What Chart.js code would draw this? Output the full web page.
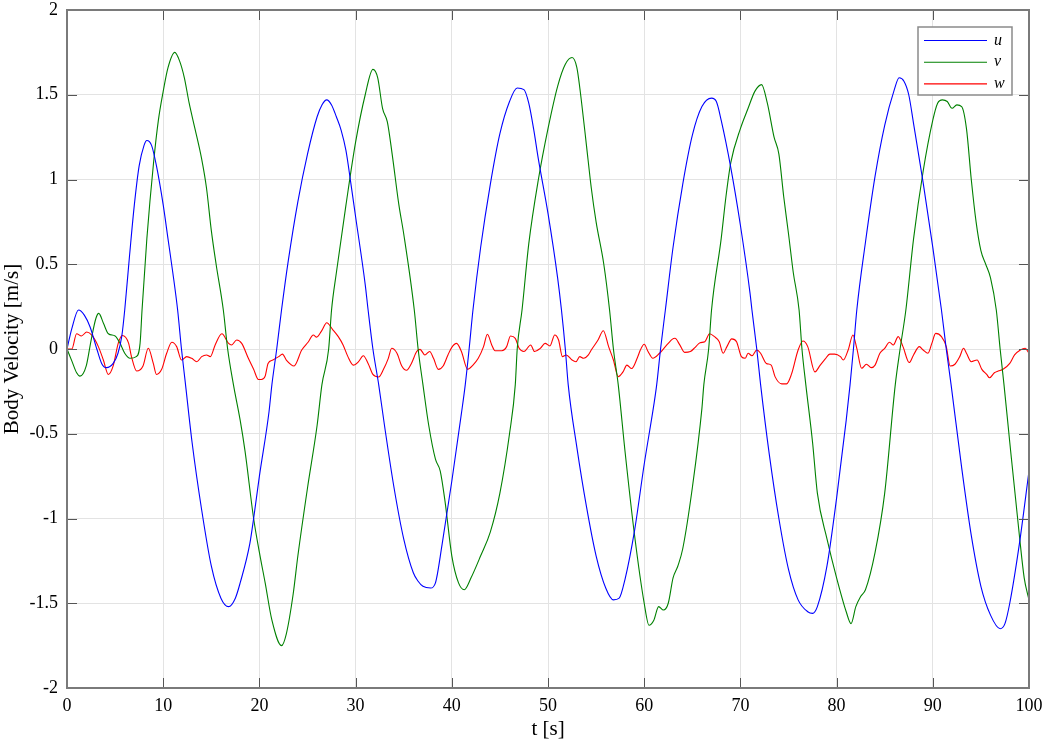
<!DOCTYPE html>
<html>
<head>
<meta charset="utf-8">
<script src="https://cdn.jsdelivr.net/npm/chart.js@4.4.1/dist/chart.umd.min.js"></script>
<style>
html,body{margin:0;padding:0;background:#fff;}
#wrap{width:1045px;height:743px;position:relative;}
</style>
</head>
<body>
<div id="wrap"><canvas id="c"></canvas></div>
<script>
// ---- data ----
const seriesLabels = ['u', 'v', 'w'];
const xTicks = [0, 10, 20, 30, 40, 50, 60, 70, 80, 90, 100];
const yTicks = [-2, -1.5, -1, -0.5, 0, 0.5, 1, 1.5, 2];

const tU = [0,0.5,1.2,1.8,2.4,3.1,3.6,4.1,4.8,5.3,5.7,6.0,6.5,7,7.5,8,8.3,8.8,9.3,10,10.5,11,11.5,11.9,12.3,13,14,15,16,16.8,17.5,18,19,19.4,20,21,21.3,21.8,22.3,23,24,25,26,26.5,27,27.5,28,28.5,29,29.5,30,31,31.3,31.8,32.4,33,34,35,36,36.5,37,37.8,38.3,39,40,41,41.4,41.8,42.2,43,44,45,46,46.8,47.5,48,48.5,49,50,51,51.4,51.8,52.1,53,54,55,56,56.8,57.4,58,59,60,61,61.3,61.7,62.2,63,64,65,66,67,67.5,68,69,70,71,71.2,71.7,72.1,73,74,75,76,77,77.5,78,79,80,81,81.4,81.75,82.1,83,84,85,86,86.5,87,87.5,88,89,90,90.9,91.4,91.9,93,94,95,96,97,97.5,98,99,100];
const uVals = [0,0.12,0.23,0.2,0.13,0.0,-0.085,-0.11,-0.085,-0.025,0.077,0.23,0.55,0.85,1.08,1.2,1.23,1.2,1.08,0.85,0.65,0.45,0.23,0,-0.2,-0.55,-0.95,-1.28,-1.47,-1.52,-1.47,-1.38,-1.15,-1.0,-0.75,-0.37,-0.21,0,0.23,0.52,0.87,1.15,1.37,1.44,1.47,1.44,1.37,1.29,1.17,0.98,0.78,0.38,0.23,0,-0.21,-0.45,-0.82,-1.12,-1.32,-1.37,-1.4,-1.41,-1.38,-1.15,-0.78,-0.38,-0.21,0,0.23,0.6,0.97,1.27,1.46,1.54,1.53,1.45,1.3,1.12,0.8,0.42,0.23,0,-0.21,-0.58,-0.93,-1.22,-1.41,-1.48,-1.47,-1.36,-1.07,-0.68,-0.33,-0.21,0,0.23,0.6,0.97,1.26,1.43,1.48,1.46,1.35,1.07,0.73,0.33,0.23,0,-0.21,-0.62,-1.0,-1.3,-1.48,-1.55,-1.56,-1.52,-1.28,-0.88,-0.42,-0.21,0,0.23,0.63,1.02,1.32,1.53,1.6,1.58,1.5,1.33,0.98,0.6,0.23,0,-0.21,-0.7,-1.1,-1.4,-1.57,-1.65,-1.62,-1.5,-1.15,-0.72];

const tV = [0,0.5,1,1.35,2,2.5,3,3.3,3.8,4.3,5,5.5,6,6.55,7.2,7.6,7.8,8.3,9,9.5,10,10.5,11.2,11.7,12.2,12.7,13.3,14,14.5,15,15.5,16.25,16.7,17.3,18,18.5,19.4,20,20.6,21.3,22.3,22.8,23.5,24,25,26,26.5,27.2,27.5,28,29,30,31,31.8,32.3,32.8,33.3,33.8,34.5,35,36.1,36.5,37,37.6,38.3,38.8,39.3,40,40.7,41.3,42,43,44,45,46,46.6,46.8,47.3,48,49,50,51,51.8,52.5,53,53.5,54,54.5,55,55.8,56.4,56.8,57.3,58,59,60,60.5,61,61.5,62,62.5,63,63.5,64,65,66,66.2,66.7,67,68,68.5,69,70,70.8,71.5,72.2,72.8,73.5,74,74.5,75,75.5,76.1,76.4,76.8,77.5,78,79,80,81,81.5,82,82.5,83,84,85,86.1,86.6,87.2,88,89,90,90.5,91,91.5,92,92.5,93,93.5,94,94.5,95,95.5,96,96.6,97,97.4,98,99,99.5,100];
const vVals = [0,-0.07,-0.14,-0.16,-0.1,0.05,0.18,0.21,0.15,0.09,0.077,0.035,-0.025,-0.055,-0.045,0.035,0.23,0.65,1.1,1.35,1.52,1.66,1.75,1.7,1.6,1.45,1.3,1.12,0.95,0.7,0.5,0.23,0,-0.21,-0.42,-0.6,-1.0,-1.2,-1.38,-1.6,-1.75,-1.68,-1.45,-1.22,-0.82,-0.45,-0.21,0,0.23,0.45,0.85,1.22,1.5,1.65,1.6,1.42,1.34,1.15,0.85,0.68,0.23,0,-0.21,-0.45,-0.65,-0.72,-0.9,-1.22,-1.38,-1.42,-1.35,-1.22,-1.08,-0.85,-0.5,-0.21,0,0.23,0.62,1.0,1.3,1.55,1.68,1.72,1.66,1.45,1.2,0.95,0.75,0.5,0.23,0,-0.21,-0.6,-1.1,-1.5,-1.63,-1.6,-1.52,-1.54,-1.5,-1.35,-1.28,-1.18,-0.82,-0.35,-0.21,0,0.23,0.65,0.9,1.1,1.3,1.42,1.52,1.56,1.45,1.25,1.15,0.9,0.68,0.45,0.23,0,-0.21,-0.55,-0.85,-1.12,-1.35,-1.55,-1.62,-1.52,-1.46,-1.42,-1.2,-0.85,-0.21,0,0.23,0.65,1.05,1.35,1.45,1.47,1.46,1.42,1.44,1.43,1.3,1.0,0.75,0.58,0.5,0.42,0.23,0,-0.21,-0.55,-1.1,-1.35,-1.48];

const tW = [0,0.5,1.0,1.5,2.05,2.6,3.26,3.78,4.3,4.8,5.33,5.75,6.4,6.7,7.24,7.9,8.45,8.97,9.3,9.84,10.36,10.9,11.4,11.9,12.44,12.96,13.5,14.0,14.5,14.9,15.4,16.1,16.8,17.1,17.64,18.16,18.85,19.4,19.9,20.2,20.6,20.9,21.4,22.0,22.4,22.8,23.6,24.4,25.1,25.6,25.95,26.5,27.0,27.6,28.2,28.7,29.2,29.76,30.3,30.8,31.3,31.8,32.4,32.9,33.4,33.75,34.3,34.8,35.3,35.8,36.35,36.7,37.2,37.7,38.1,38.6,39.1,39.6,40.0,40.5,41.0,41.65,42.2,42.75,43.3,43.7,44.15,44.5,45.2,45.7,46.1,46.6,47.0,47.5,48.2,48.6,49.2,49.7,50.2,50.7,51.1,51.5,51.9,52.5,52.9,53.3,53.7,54.2,54.5,55.2,55.75,56.3,56.8,57.3,57.8,58.2,58.7,59.3,59.6,60.0,60.4,60.9,61.6,62.2,62.5,62.9,63.2,63.7,64.2,64.8,65.3,65.8,66.3,66.8,67.3,67.8,68.2,68.6,69.1,69.6,70.1,70.5,70.8,71.2,71.7,72.1,72.7,73.2,73.6,74.3,74.8,75.3,76.0,76.5,77.0,77.75,78.3,78.8,79.3,79.8,80.4,80.7,81.2,81.7,82.1,82.6,83.1,83.6,84.0,84.5,85.0,85.5,85.9,86.4,86.9,87.55,88.0,88.6,89.0,89.5,89.9,90.3,90.9,91.4,91.8,92.3,92.8,93.2,93.5,94.0,94.6,95.1,95.6,95.9,96.4,96.8,97.3,98.0,98.5,99.1,99.6,100];
const wVals = [0,0.0,0.09,0.077,0.10,0.08,0.014,-0.065,-0.15,-0.10,0.035,0.08,0.035,-0.045,-0.13,-0.10,0.004,-0.085,-0.15,-0.12,-0.025,0.04,0.014,-0.065,-0.045,-0.055,-0.075,-0.045,-0.035,-0.045,0.024,0.09,0.033,0.024,0.053,0.033,-0.055,-0.12,-0.18,-0.18,-0.16,-0.085,-0.065,-0.045,-0.03,-0.065,-0.10,-0.006,0.043,0.083,0.07,0.11,0.155,0.116,0.073,0.024,-0.045,-0.095,-0.075,-0.04,-0.085,-0.15,-0.165,-0.12,-0.055,0.004,-0.025,-0.10,-0.125,-0.085,-0.015,-0.002,-0.035,-0.015,-0.055,-0.12,-0.10,-0.035,0.01,0.033,-0.015,-0.12,-0.095,-0.055,0.014,0.087,0.024,-0.01,-0.01,0.014,0.077,0.063,0.004,-0.015,0.024,-0.015,0.004,0.033,0.018,0.083,0.053,-0.045,-0.035,-0.065,-0.075,-0.045,-0.055,-0.035,-0.006,0.053,0.108,0.014,-0.065,-0.163,-0.135,-0.095,-0.115,-0.05,-0.006,0.028,-0.015,-0.055,-0.025,0.014,0.033,0.057,0.063,0.024,-0.02,-0.015,0.01,0.037,0.043,0.09,0.073,0.043,-0.025,0.014,0.06,0.043,-0.045,-0.055,-0.025,-0.04,-0.006,-0.025,-0.085,-0.095,-0.163,-0.206,-0.206,-0.15,-0.006,0.047,0.014,-0.135,-0.095,-0.06,-0.03,-0.03,-0.045,-0.065,-0.006,0.083,0.004,-0.114,-0.09,-0.11,-0.095,-0.025,0.004,0.04,0.024,0.073,0.014,-0.08,-0.035,0.014,-0.006,-0.025,0.033,0.092,0.073,0.014,-0.1,-0.09,-0.045,0.004,-0.025,-0.075,-0.065,-0.12,-0.15,-0.17,-0.14,-0.13,-0.12,-0.085,-0.035,-0.006,0.004,-0.025];

const seriesColors = ['#0000ff', '#008000', '#ff0000'];

// ---- build datasets ----
function pts(ts, vs) { return ts.map((t, i) => ({ x: t, y: vs[i] })); }
const allSeries = [pts(tU, uVals), pts(tV, vVals), pts(tW, wVals)];

const datasets = allSeries.map((d, i) => ({
  label: seriesLabels[i],
  data: d,
  borderColor: seriesColors[i],
  backgroundColor: seriesColors[i],
  borderWidth: 1.1,
  pointRadius: 0,
  fill: false,
  cubicInterpolationMode: 'monotone'
}));

const FONT = "'Liberation Serif', 'Times New Roman', serif";
const AXIS_COLOR = '#7a7a7a';

const boxPlugin = {
  id: 'matlabBox',
  afterDatasetsDraw(chart) {
    const { ctx, chartArea: a, scales } = chart;
    ctx.save();
    // inward ticks on all four sides
    ctx.strokeStyle = '#555';
    ctx.lineWidth = 1;
    const tl = 10;
    xTicks.forEach(v => {
      const px = Math.round(scales.x.getPixelForValue(v)) + 0.5;
      ctx.beginPath();
      ctx.moveTo(px, a.bottom); ctx.lineTo(px, a.bottom - tl);
      ctx.moveTo(px, a.top); ctx.lineTo(px, a.top + tl);
      ctx.stroke();
    });
    yTicks.forEach(v => {
      const py = Math.round(scales.y.getPixelForValue(v)) + 0.5;
      ctx.beginPath();
      ctx.moveTo(a.left, py); ctx.lineTo(a.left + tl, py);
      ctx.moveTo(a.right, py); ctx.lineTo(a.right - tl, py);
      ctx.stroke();
    });
    // box
    ctx.strokeStyle = AXIS_COLOR;
    ctx.lineWidth = 2;
    ctx.strokeRect(a.left, a.top, a.right - a.left, a.bottom - a.top);

    // legend
    const lx = 918, ly = 27, lw = 94, lh = 68;
    ctx.fillStyle = '#fff';
    ctx.fillRect(lx, ly, lw, lh);
    ctx.strokeStyle = '#8a8a8a';
    ctx.lineWidth = 1.5;
    ctx.strokeRect(lx, ly, lw, lh);
    chart.data.datasets.forEach((ds, i) => {
      const yy = ly + 13.5 + i * 21.7;
      ctx.strokeStyle = ds.borderColor;
      ctx.lineWidth = 1.1;
      ctx.beginPath();
      ctx.moveTo(lx + 6, yy); ctx.lineTo(lx + 69, yy);
      ctx.stroke();
      ctx.fillStyle = '#000';
      ctx.font = "italic 16px " + FONT;
      ctx.textBaseline = 'middle';
      ctx.textAlign = 'left';
      ctx.fillText(ds.label, lx + 76, yy);
    });
    ctx.restore();
  }
};

new Chart(document.getElementById('c'), {
  type: 'line',
  data: { datasets },
  options: {
    responsive: true,
    maintainAspectRatio: false,
    animation: false,
    layout: { padding: { left: 0, right: 16, top: 10, bottom: 0 } },
    plugins: { legend: { display: false }, tooltip: { enabled: false } },
    scales: {
      x: {
        type: 'linear',
        min: 0, max: 100,
        afterBuildTicks(scale) { scale.ticks = xTicks.map(v => ({ value: v })); },
        afterFit(scale) { scale.height = 55; scale.paddingLeft = 0; scale.paddingRight = 0; },
        ticks: {
          color: '#000',
          font: { family: FONT, size: 18 },
          padding: 7,
          maxRotation: 0,
          callback: v => String(v)
        },
        grid: { color: '#e3e3e3', lineWidth: 1, drawTicks: false },
        border: { display: false },
        title: {
          display: true,
          text: 't [s]',
          color: '#000',
          font: { family: FONT, size: 21 },
          padding: { top: 0, bottom: 1 }
        }
      },
      y: {
        type: 'linear',
        min: -2, max: 2,
        afterBuildTicks(scale) { scale.ticks = yTicks.map(v => ({ value: v })); },
        afterFit(scale) { scale.width = 67; scale.paddingTop = 0; scale.paddingBottom = 0; },
        ticks: {
          color: '#000',
          font: { family: FONT, size: 18 },
          padding: 9,
          callback: v => String(v)
        },
        grid: { color: '#e3e3e3', lineWidth: 1, drawTicks: false },
        border: { display: false },
        title: {
          display: true,
          text: 'Body Velocity [m/s]',
          color: '#000',
          font: { family: FONT, size: 21 },
          padding: { top: 0, bottom: 0 }
        }
      }
    }
  },
  plugins: [boxPlugin]
});
</script>
</body>
</html>
